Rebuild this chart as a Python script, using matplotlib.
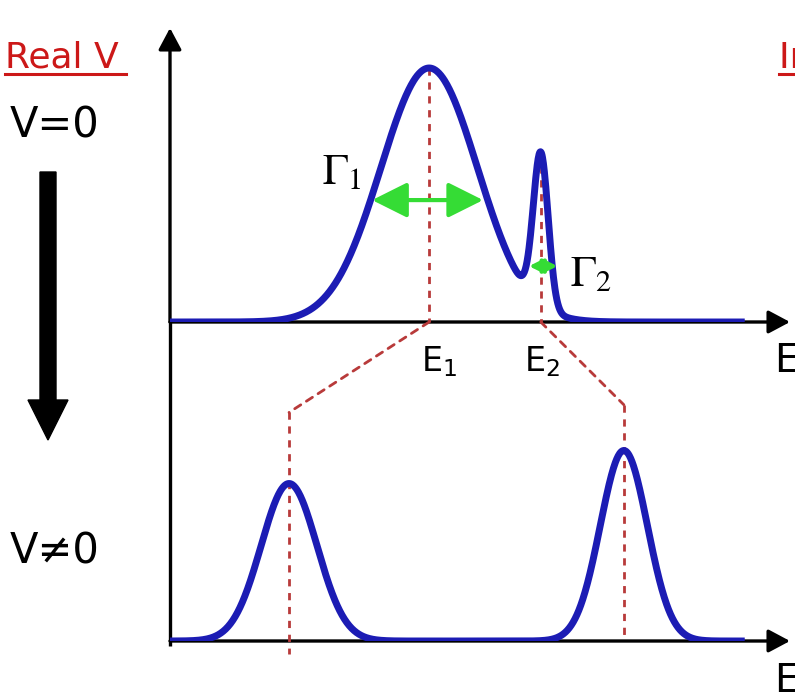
import numpy as np
import matplotlib
matplotlib.use("Agg")
import matplotlib.pyplot as plt
from matplotlib.patches import ConnectionPatch, FancyArrowPatch, FancyArrow

W, H = 795, 695

# Resonances without the potential (V = 0): centre, height, width (energy units)
top_centers = [4.18, 5.98]
top_heights = [1.0, 0.60]
top_widths = [0.78, 0.12]

# Resonances with a real potential (V != 0)
bottom_centers = [1.92, 7.32]
bottom_heights = [0.62, 0.75]
bottom_widths = [0.45, 0.38]

energy_range = [0.0, 9.27]

# Widths marked by the green double arrows: (left, right, level)
gamma1_span = [3.26, 5.05, 0.48]
gamma2_span = [5.79, 6.25, 0.22]

# Heights (lower panel units) where the shift guides bend
shift_bend = [0.90, 0.93]

peak_labels = ["E_1", "E_2"]
gamma_labels = [r"\Gamma_1", r"\Gamma_2"]

BLUE = "#1c1cb4"
RED_DASH = "#b83a3a"
GREEN = "#35dc35"
TITLE_RED = "#cc1818"
PX_PER_UNIT = 254.0


def box(x0, y0, x1, y1):
    return [x0 / W, 1 - y1 / H, (x1 - x0) / W, (y1 - y0) / H]


def spectrum(e, centers, heights, widths):
    out = np.zeros_like(e)
    for c, h, s in zip(centers, heights, widths):
        out += h * np.exp(-0.5 * ((e - c) / s) ** 2)
    return out


fig = plt.figure(figsize=(W / 100, H / 100), dpi=100)
fig.patch.set_facecolor("white")

ax_top = fig.add_axes(box(170, 28, 790, 322))
ax_bot = fig.add_axes(box(170, 322, 790, 641))
ax_top.set_ylim(0, (322 - 28) / PX_PER_UNIT)
ax_bot.set_ylim(0, (641 - 322) / PX_PER_UNIT)
for ax in (ax_top, ax_bot):
    ax.set_xlim(0, 10)
    ax.axis("off")

arrow_kw = dict(arrowstyle="-|>,head_length=0.6,head_width=0.32", lw=2.4,
                color="black", shrinkA=0, shrinkB=0, mutation_scale=22)
# axes lines
ax_top.annotate("", xy=(0, 1), xytext=(0, 0), xycoords="axes fraction",
                arrowprops=arrow_kw, zorder=1)
ax_top.annotate("", xy=(1, 0), xytext=(0, 0), xycoords="axes fraction",
                arrowprops=arrow_kw, zorder=1)
ax_bot.annotate("", xy=(1, 0), xytext=(0, 0), xycoords="axes fraction",
                arrowprops=arrow_kw, zorder=1)
ax_bot.plot([0, 0], [-0.015, 1], transform=ax_bot.transAxes, color="black",
            lw=2.4, clip_on=False, zorder=1, solid_capstyle="butt")

e = np.linspace(energy_range[0], energy_range[1], 1200)
top_curve = spectrum(e, top_centers, top_heights, top_widths)
bot_curve = spectrum(e, bottom_centers, bottom_heights, bottom_widths)
ax_top.plot(e, top_curve, color=BLUE, lw=5, zorder=4, solid_capstyle="butt")
ax_bot.plot(e, bot_curve, color=BLUE, lw=5, zorder=4, solid_capstyle="butt")

dash_kw = dict(color=RED_DASH, lw=2.0, dashes=(2.6, 2.4), zorder=3)

# guides from each peak down to the energy axis
for c in top_centers:
    peak = spectrum(np.array([c]), top_centers, top_heights, top_widths)[0]
    ax_top.plot([c, c], [peak, 0], clip_on=False, **dash_kw)
for i, (c, h) in enumerate(zip(bottom_centers, shift_bend)):
    ax_bot.plot([c, c], [h, -0.05 if i == 0 else 0], clip_on=False, **dash_kw)

# shift of each level once the potential is switched on
for c_top, c_bot, h in zip(top_centers, bottom_centers, shift_bend):
    con = ConnectionPatch(xyA=(c_top, 0), coordsA=ax_top.transData,
                          xyB=(c_bot, h), coordsB=ax_bot.transData,
                          color=RED_DASH, lw=2.0, linestyle=(0, (2.6, 2.4)),
                          zorder=3)
    fig.add_artist(con)

# widths
for span, scale in ((gamma1_span, 24), (gamma2_span, 9)):
    arr = FancyArrowPatch((span[0], span[2]), (span[1], span[2]),
                          arrowstyle="<|-|>,head_length=0.9,head_width=0.45",
                          mutation_scale=scale, color=GREEN, lw=3,
                          shrinkA=0, shrinkB=0, zorder=5)
    ax_top.add_patch(arr)

# annotation layer in pixel units
ov = fig.add_axes([0, 0, 1, 1])
ov.set_xlim(0, W)
ov.set_ylim(H, 0)
ov.axis("off")

ov.text(5, 68, "Real V", color=TITLE_RED, fontsize=26, va="baseline",
        family="DejaVu Sans")
ov.plot([5, 126], [74, 74], color=TITLE_RED, lw=2.2)
ov.text(779, 68, "Imag V", color=TITLE_RED, fontsize=26, va="baseline",
        family="DejaVu Sans", clip_on=False)
ov.plot([779, 800], [74, 74], color=TITLE_RED, lw=2.2)

ov.text(10, 137, "V=0", fontsize=30, va="baseline", family="DejaVu Sans")
ov.text(10, 563, "V\u22600", fontsize=30, va="baseline", family="DejaVu Sans")

ov.add_patch(FancyArrow(48, 172, 0, 268, width=16, head_width=40,
                        head_length=40, length_includes_head=True,
                        color="black"))

ov.text(322, 184, "$" + gamma_labels[0] + "$", fontsize=31,
        math_fontfamily="stix", va="baseline")
ov.text(570, 286, "$" + gamma_labels[1] + "$", fontsize=31,
        math_fontfamily="stix", va="baseline")

ov.text(421, 371, r"$\mathregular{" + peak_labels[0] + "}$", fontsize=24,
        va="baseline")
ov.text(524, 371, r"$\mathregular{" + peak_labels[1] + "}$", fontsize=24,
        va="baseline")

ov.text(774, 372, "E", fontsize=28, va="baseline")
ov.text(774, 692, "E", fontsize=28, va="baseline")

fig.savefig("out.png", dpi=100, facecolor="white")
